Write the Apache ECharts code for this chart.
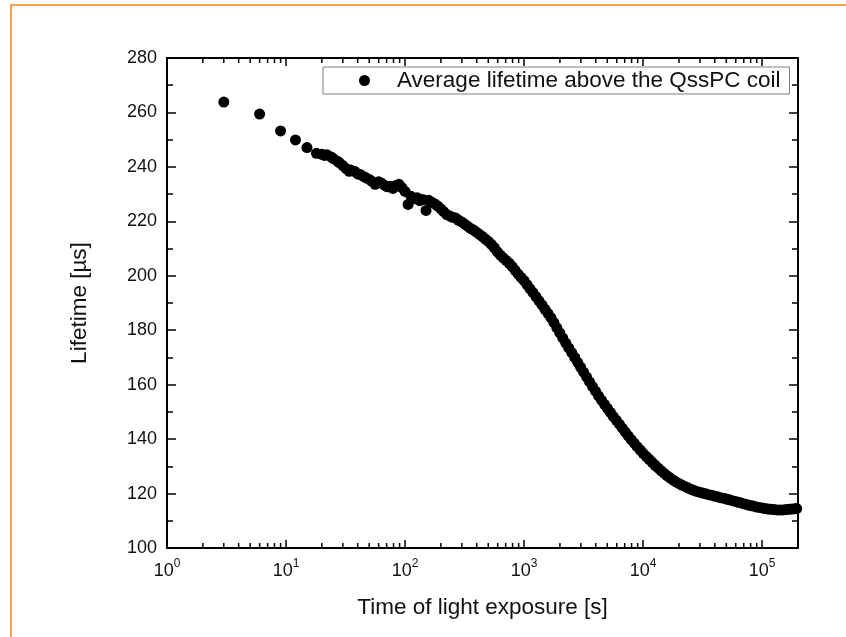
<!DOCTYPE html>
<html>
<head>
<meta charset="utf-8">
<script src="https://cdn.jsdelivr.net/npm/echarts@6/dist/echarts.min.js"></script>
<style>
html,body{margin:0;padding:0;background:#fff;}
#wrap{position:relative;width:846px;height:637px;overflow:hidden;}
#chart{position:absolute;left:0;top:0;width:846px;height:637px;}
#frame{position:absolute;left:10px;top:4px;width:900px;height:700px;border-top:2px solid #F6A24C;border-left:2px solid #F6A24C;pointer-events:none;}
</style>
</head>
<body>
<div id="wrap"><div id="chart"></div><div id="frame"></div></div>
<script>
const seriesName = 'Average lifetime above the QssPC coil';
const xTitle = 'Time of light exposure [s]';
const yTitle = 'Lifetime [\u00b5s]';

const times = [
  3, 6, 9, 12, 15, 18,
  20, 21, 22, 24, 25, 27, 28, 30, 32, 34, 35, 38, 40, 42, 45, 47, 50, 53, 56, 60, 63, 67, 71, 75, 79, 84, 89, 94,
  100, 106, 112, 119, 126, 133, 141, 150, 158, 168, 178, 188, 200, 211, 224, 237, 251, 266, 282, 299,
  316, 335, 355, 376, 398, 422, 447, 473, 501, 531, 562, 596, 631, 668, 708, 750, 794, 841, 891, 944,
  1000, 1059, 1122, 1189, 1259, 1334, 1413, 1496, 1585, 1679, 1778, 1884, 1995, 2113, 2239, 2371, 2512, 2661, 2818, 2985,
  3162, 3350, 3548, 3758, 3981, 4217, 4467, 4732, 5012, 5309, 5623, 5957, 6310, 6683, 7079, 7499, 7943, 8414, 8913, 9441,
  10000, 10590, 11220, 11890, 12590, 13340, 14130, 14960, 15850, 16790, 17780, 18840, 19950, 21130, 22390, 23710, 25120, 26610, 28180, 29850,
  31620, 33500, 35480, 37580, 39810, 42170, 44670, 47320, 50120, 53090, 56230, 59570, 63100, 66830, 70790, 74990, 79430, 84140, 89130, 94410,
  100000, 105900, 112200, 118900, 125900, 133400, 141300, 149600, 158500, 167900, 177800, 188400, 195000
];
const lifetimes = [
  263.8, 259.4, 253.2, 249.9, 247.1, 245.0,
  244.6, 244.2, 244.5, 243.6, 243.0, 242.1, 241.6, 240.5, 239.4, 238.4, 238.9, 238.3, 237.4, 237.2, 236.4, 236.0, 235.4, 234.6, 233.6, 234.5, 234.1, 233.3, 232.7, 232.9, 232.1, 233.2, 233.6, 232.4,
  231.0, 226.2, 229.2, 228.3, 228.7, 227.6, 228.0, 224.0, 227.7, 227.0, 226.4, 225.6, 224.6, 223.6, 222.5, 222.0, 221.5, 221.2, 220.4, 219.8,
  219.0, 218.2, 217.4, 216.8, 216.0, 215.2, 214.4, 213.5, 212.6, 211.5, 210.3, 208.8, 207.6, 206.6, 205.6, 204.6, 203.4, 202.0, 200.6, 199.4,
  198.2, 196.7, 195.2, 193.8, 192.3, 190.8, 189.3, 187.7, 186.2, 184.6, 182.8, 180.9, 179.0, 177.1, 175.3, 173.5, 171.8, 170.0, 168.2, 166.4,
  164.6, 162.8, 161.0, 159.3, 157.6, 155.9, 154.3, 152.8, 151.3, 149.8, 148.3, 146.9, 145.5, 144.0, 142.6, 141.2, 139.8, 138.5, 137.2, 136.0,
  134.8, 133.7, 132.6, 131.5, 130.4, 129.4, 128.4, 127.5, 126.6, 125.8, 125.0, 124.3, 123.7, 123.1, 122.6, 122.1, 121.6, 121.2, 120.8, 120.5,
  120.2, 119.9, 119.6, 119.4, 119.1, 118.8, 118.5, 118.3, 118.0, 117.7, 117.4, 117.1, 116.8, 116.5, 116.2, 115.9, 115.6, 115.4, 115.1, 114.9,
  114.7, 114.5, 114.3, 114.2, 114.1, 114.0, 114.0, 114.0, 114.1, 114.2, 114.3, 114.4, 114.5
];
const xMinorTicks = [
  2, 3, 4, 5, 6, 7, 8, 9,
  20, 30, 40, 50, 60, 70, 80, 90,
  200, 300, 400, 500, 600, 700, 800, 900,
  2000, 3000, 4000, 5000, 6000, 7000, 8000, 9000,
  20000, 30000, 40000, 50000, 60000, 70000, 80000, 90000
];
const xMin = 1, xMax = 200000;
const yMin = 100, yMax = 280, yStep = 20;

const FONT = '"Liberation Sans", Arial, Helvetica, sans-serif';
const points = times.map((t, i) => [t, lifetimes[i]]);

const chart = echarts.init(document.getElementById('chart'), null, {renderer: 'canvas'});
const axisLine = {show: true, onZero: false, lineStyle: {color: '#000', width: 2}};

function xLabel(v) {
  const l = Math.log10(v);
  const e = Math.round(l);
  if (Math.abs(l - e) > 1e-6) return '';
  return '{b|10}{s|' + e + '}';
}

chart.setOption({
  backgroundColor: '#fff',
  animation: false,
  grid: {left: 167, right: 48, top: 58, bottom: 89, containLabel: false, outerBoundsMode: 'none'},
  legend: {
    data: [seriesName],
    left: 323, top: 67,
    orient: 'horizontal',
    backgroundColor: '#fff',
    borderColor: '#808080',
    borderWidth: 1,
    borderRadius: 0,
    padding: [2, 9, 2, 36],
    icon: 'circle',
    itemWidth: 11, itemHeight: 11,
    textStyle: {fontFamily: FONT, fontSize: 22.5, color: '#111', padding: [0, 0, 0, 22]}
  },
  xAxis: [{
    type: 'log', logBase: 10, min: xMin, max: xMax,
    position: 'bottom',
    name: xTitle, nameLocation: 'middle', nameGap: 48,
    nameTextStyle: {fontFamily: FONT, fontSize: 22.5, color: '#111'},
    axisLine: axisLine,
    axisTick: {show: true, inside: true, length: 8, lineStyle: {color: '#000', width: 1.5}},
    axisLabel: {
      show: true, margin: 10, showMaxLabel: false,
      formatter: xLabel,
      rich: {
        b: {fontFamily: FONT, fontSize: 18, color: '#111', verticalAlign: 'bottom', lineHeight: 22},
        s: {fontFamily: FONT, fontSize: 12, color: '#111', verticalAlign: 'top', lineHeight: 22}
      }
    },
    splitLine: {show: false}
  }, {
    type: 'log', logBase: 10, min: xMin, max: xMax,
    position: 'top',
    axisLine: axisLine,
    axisTick: {show: true, inside: true, length: 8, lineStyle: {color: '#000', width: 1.5}},
    axisLabel: {show: false},
    splitLine: {show: false}
  }],
  yAxis: [{
    type: 'value', min: yMin, max: yMax, interval: yStep,
    position: 'left',
    name: yTitle, nameLocation: 'middle', nameGap: 76,
    nameTextStyle: {fontFamily: FONT, fontSize: 22.5, color: '#111'},
    axisLine: axisLine,
    axisTick: {show: true, inside: true, length: 9, lineStyle: {color: '#000', width: 1.5}},
    minorTick: {show: true, splitNumber: 2, length: 6, lineStyle: {color: '#000', width: 1.5}},
    axisLabel: {show: true, margin: 10, fontFamily: FONT, fontSize: 18, color: '#111'},
    splitLine: {show: false}, minorSplitLine: {show: false}
  }, {
    type: 'value', min: yMin, max: yMax, interval: yStep,
    position: 'right',
    axisLine: axisLine,
    axisTick: {show: true, inside: true, length: 9, lineStyle: {color: '#000', width: 1.5}},
    minorTick: {show: true, splitNumber: 2, length: 6, lineStyle: {color: '#000', width: 1.5}},
    axisLabel: {show: false},
    splitLine: {show: false}, minorSplitLine: {show: false}
  }],
  series: [{
    name: seriesName,
    type: 'scatter',
    xAxisIndex: 0, yAxisIndex: 0,
    symbol: 'circle',
    symbolSize: 11,
    itemStyle: {color: '#000', opacity: 1},
    data: points,
    z: 3
  }, {
    name: 'minorTicks',
    type: 'custom',
    xAxisIndex: 0, yAxisIndex: 0,
    silent: true,
    clip: false,
    encode: {x: 0},
    data: xMinorTicks.map(v => [v]),
    renderItem: function (params, api) {
      const t = api.value(0);
      const b = api.coord([t, yMin]);
      const tp = api.coord([t, yMax]);
      const st = {stroke: '#000', lineWidth: 1.5};
      return {type: 'group', children: [
        {type: 'line', shape: {x1: b[0], y1: b[1], x2: b[0], y2: b[1] - 5}, style: st},
        {type: 'line', shape: {x1: tp[0], y1: tp[1], x2: tp[0], y2: tp[1] + 5}, style: st}
      ]};
    },
    z: 4
  }]
});
</script>
</body>
</html>
